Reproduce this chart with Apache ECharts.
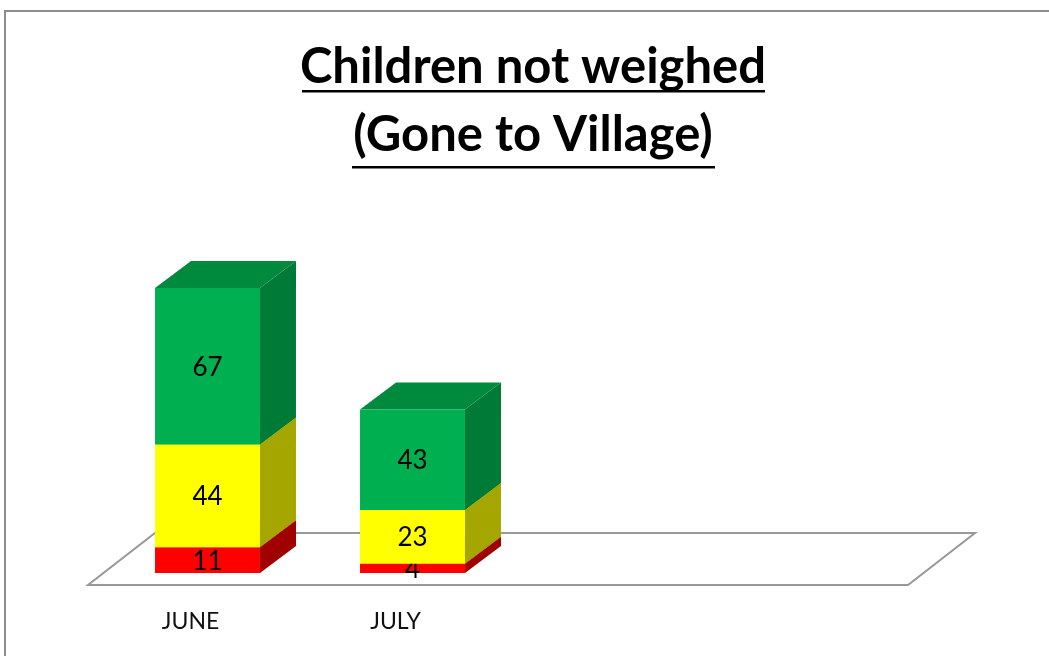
<!DOCTYPE html>
<html>
<head>
<meta charset="utf-8">
<script src="https://cdn.jsdelivr.net/npm/echarts@6/dist/echarts.min.js"></script>
<style>
  html, body { margin: 0; padding: 0; background: #fff; }
  #chart { width: 1049px; height: 656px; }
</style>
</head>
<body>
<div id="chart"></div>
<script>
const months = ['JUNE', 'JULY', '', ''];
const redVals = [11, 4];
const yellowVals = [44, 23];
const greenVals = [67, 43];

const chart = echarts.init(document.getElementById('chart'));

// 3d look: front face shifted into the floor, then depth to the back-right
const FX = 17, FY = 12, DX = 36, DY = 27;
const FONT = 'Lato, "Open Sans", sans-serif';

// stack the three layers
const layers = [
    { vals: redVals, front: '#ff0000', side: '#a00000', top: '#c00000' },
    { vals: yellowVals, front: '#ffff00', side: '#a6a600', top: '#cccc00' },
    { vals: greenVals, front: '#00b050', side: '#007a37', top: '#008a3e' }
];
const bases = months.map(() => 0);
const layerData = layers.map(l => {
    return l.vals.map((v, i) => {
        const item = [i, bases[i], v];
        bases[i] += v;
        return item;
    });
});

const barSeries = layers.map((l, k) => ({
    type: 'custom',
    z: 10 + k,
    data: layerData[k],
    encode: { x: 0, y: 2 },
    renderItem: (params, api) => {
        const cat = api.value(0), base = api.value(1), v = api.value(2);
        const band = api.size([1, 0])[0];
        const w = band * 0.512;
        const p0 = api.coord([cat, base]);
        const p1 = api.coord([cat, base + v]);
        const x0 = p0[0] + FX - w / 2, x1 = x0 + w;
        const yb = p0[1] - FY, yt = p1[1] - FY;
        return {
            type: 'group',
            children: [
                { type: 'polygon', shape: { points: [[x1, yb], [x1 + DX, yb - DY], [x1 + DX, yt - DY], [x1, yt]] }, style: { fill: l.side } },
                { type: 'polygon', shape: { points: [[x0, yt], [x0 + DX, yt - DY], [x1 + DX, yt - DY], [x1, yt]] }, style: { fill: l.top } },
                { type: 'rect', shape: { x: x0, y: yt, width: w, height: yb - yt }, style: { fill: l.front } },
                { type: 'text', x: (x0 + x1) / 2, y: (yt + yb) / 2 + 1, z2: 5, style: { text: String(v), fill: '#000', font: '26px ' + FONT, align: 'center', verticalAlign: 'middle' } }
            ]
        };
    }
}));

const floorSeries = {
    type: 'custom',
    z: 1,
    data: [[0, 0]],
    encode: { x: 0, y: 1 },
    renderItem: (params, api) => {
        const band = api.size([1, 0])[0];
        const a = api.coord([0, 0]);
        const b = api.coord([months.length - 1, 0]);
        const xl = a[0] - band / 2, xr = b[0] + band / 2, y = a[1];
        return {
            type: 'polygon',
            shape: { points: [[xl, y], [xr, y], [xr + 67, y - 52], [xl + 67, y - 52]] },
            style: { fill: '#fff', stroke: '#989898', lineWidth: 2 }
        };
    }
};

const option = {
    backgroundColor: '#fff',
    animation: false,
    grid: { left: 88, right: 141, top: 258, bottom: 71 },
    xAxis: {
        type: 'category',
        data: months,
        axisLine: { show: false },
        axisTick: { show: false },
        axisLabel: { margin: 25, color: '#111', fontSize: 23, fontFamily: FONT }
    },
    yAxis: {
        type: 'value',
        min: 0,
        max: 140,
        show: false
    },
    graphic: [
        { type: 'rect', shape: { x: 5, y: 11, width: 1200, height: 800 }, style: { fill: 'none', stroke: '#8c8c8c', lineWidth: 2 }, silent: true },
        { type: 'text', x: 533, y: 67, style: { text: 'Children not weighed', font: 'bold 49px ' + FONT, fill: '#000', align: 'center', verticalAlign: 'middle' } },
        { type: 'rect', shape: { x: 302, y: 90, width: 463, height: 2.5 }, style: { fill: '#000' } },
        { type: 'text', x: 533, y: 135, style: { text: '(Gone to Village)', font: 'bold 49px ' + FONT, fill: '#000', align: 'center', verticalAlign: 'middle' } },
        { type: 'rect', shape: { x: 352, y: 166, width: 363, height: 2.5 }, style: { fill: '#000' } }
    ],
    series: [floorSeries, ...barSeries]
};

chart.setOption(option);
</script>
</body>
</html>
